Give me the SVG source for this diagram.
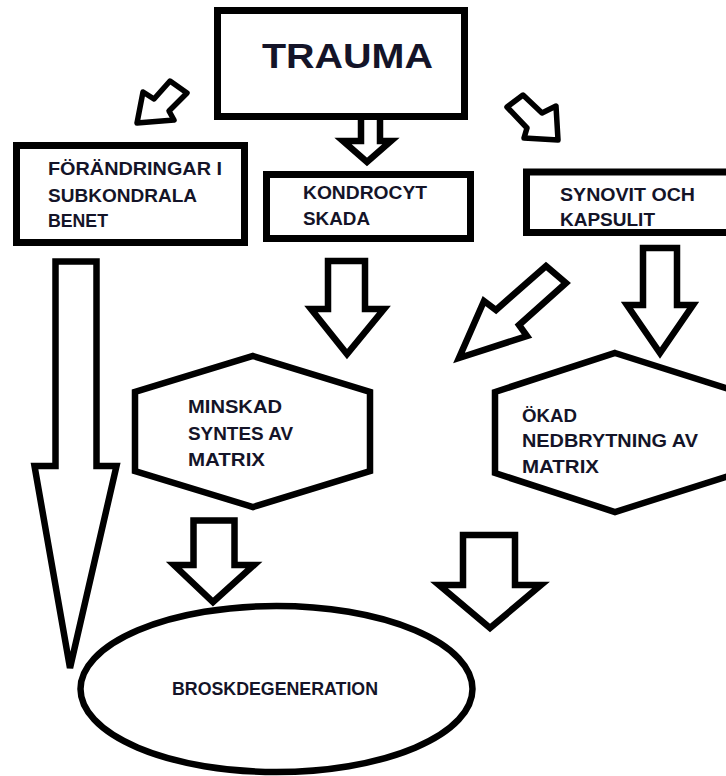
<svg xmlns="http://www.w3.org/2000/svg" width="726" height="776" viewBox="0 0 726 776">
<style>
.box{fill:#fff;stroke:#000;stroke-width:7}
.shape{fill:#fff;stroke:#000;stroke-width:6.5;stroke-linejoin:miter}
.arrow{fill:#fff;stroke:#000;stroke-width:6.5;stroke-linejoin:miter}
.sarrow{fill:#fff;stroke:#000;stroke-width:5.5;stroke-linejoin:round}
.t{font-family:"Liberation Sans",Arial,sans-serif;font-weight:bold;font-size:18px;fill:#141428}
.big{font-size:35px}
</style>
<rect width="726" height="776" fill="#fff"/>
<g id="connectors">
<polygon class="sarrow" points="137,123 143,92 154,99 170,81 187,93 169,111 174,120"/>
<polygon class="sarrow" points="507,107 523,95 542,113 556,106 558,140 524,138 527,128"/>
<polygon class="arrow" points="361,116 380,116 380,141 391,141 367,162 343,141 361,141"/>
<polygon class="arrow" points="55.5,261.5 96.5,261.5 96.5,466 116.5,466 70,668 34.5,466 55.5,466"/>
<polygon class="arrow" points="328,261 365,261 365,309 384,309 347,354 311,309 328,309"/>
<polygon class="arrow" points="643,248 677,248 677,305 693,305 660,353 627,305 643,305"/>
<polygon class="arrow" points="546,266 566,283 519,325 527,336 459,358 484,301 496,310"/>
<polygon class="arrow" points="193.5,520.5 234.5,520.5 234.5,565 254,565 213,602 174,565 193.5,565"/>
<polygon class="arrow" points="463,535 515,535 515,585 541,585 490,628 439,585 463,585"/>
</g>
<g id="trauma">
<rect class="box" x="217.5" y="10.5" width="247" height="106"/>
<text class="t big" x="262" y="68" textLength="171" lengthAdjust="spacingAndGlyphs">TRAUMA</text>
</g>
<g id="forandringar">
<rect class="box" x="16.5" y="145.5" width="228" height="97"/>
<text class="t" x="48" y="175" textLength="174" lengthAdjust="spacingAndGlyphs">FÖRÄNDRINGAR I</text>
<text class="t" x="48" y="202" textLength="149" lengthAdjust="spacingAndGlyphs">SUBKONDRALA</text>
<text class="t" x="48" y="227" textLength="60" lengthAdjust="spacingAndGlyphs">BENET</text>
</g>
<g id="kondrocyt">
<rect class="box" x="266.5" y="174.5" width="204" height="64"/>
<text class="t" x="303" y="199" textLength="124" lengthAdjust="spacingAndGlyphs">KONDROCYT</text>
<text class="t" x="303" y="225" textLength="67" lengthAdjust="spacingAndGlyphs">SKADA</text>
</g>
<g id="synovit">
<rect class="box" x="526.5" y="172" width="220" height="60.5"/>
<text class="t" x="560" y="201" textLength="135" lengthAdjust="spacingAndGlyphs">SYNOVIT OCH</text>
<text class="t" x="560" y="226" textLength="95" lengthAdjust="spacingAndGlyphs">KAPSULIT</text>
</g>
<g id="minskad">
<polygon class="shape" points="253,356 370,392 370,471 253,507 135,471 135,392"/>
<text class="t" x="188" y="413" textLength="94" lengthAdjust="spacingAndGlyphs">MINSKAD</text>
<text class="t" x="188" y="440" textLength="105" lengthAdjust="spacingAndGlyphs">SYNTES AV</text>
<text class="t" x="188" y="466" textLength="77" lengthAdjust="spacingAndGlyphs">MATRIX</text>
</g>
<g id="okad">
<polygon class="shape" points="615,353 738,392 738,473 615,512 495,473 495,392"/>
<text class="t" x="522" y="422" textLength="55" lengthAdjust="spacingAndGlyphs">ÖKAD</text>
<text class="t" x="522" y="447" textLength="176" lengthAdjust="spacingAndGlyphs">NEDBRYTNING AV</text>
<text class="t" x="522" y="473" textLength="77" lengthAdjust="spacingAndGlyphs">MATRIX</text>
</g>
<g id="broskdegeneration">
<ellipse class="shape" cx="276.5" cy="689" rx="196" ry="83"/>
<text class="t" x="172" y="695" textLength="206" lengthAdjust="spacingAndGlyphs">BROSKDEGENERATION</text>
</g>
</svg>
